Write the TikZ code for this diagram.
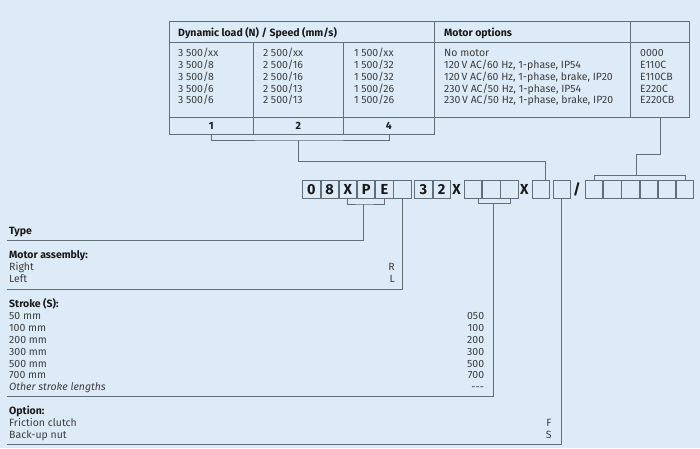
\documentclass[tikz,border=0pt]{standalone}
\usepackage{fontspec}
\setmainfont{Fira Sans}
\usetikzlibrary{calc}
\definecolor{bgc}{RGB}{221,235,248}
\definecolor{linec}{RGB}{100,110,118}
\definecolor{textc}{RGB}{60,60,60}
\definecolor{hdrc}{RGB}{25,25,25}
\newcommand{\ths}{\hspace{2.6pt}}
\tikzset{
  conn/.style={draw=linec, line width=0.9pt},
  tbl/.style={draw=linec, line width=0.9pt, inner sep=0pt, anchor=north west},
  cellbox/.style={draw=linec, line width=0.9pt, minimum width=17.33pt, minimum height=18.7pt, inner sep=0pt, anchor=west, font=\fontsize{14.5}{14}\selectfont\bfseries, text=hdrc},
  sep/.style={inner sep=0pt, font=\fontsize{14.5}{14}\selectfont\bfseries, text=hdrc},
  txt/.style={font=\fontsize{10.5}{11}\selectfont, text=textc, inner sep=0pt, anchor=base west},
  txtr/.style={txt, anchor=base east},
  hdr/.style={txt, font=\fontsize{10.5}{11}\selectfont\bfseries, text=hdrc},
  foot/.style={tbl, font=\fontsize{10.5}{11}\selectfont\bfseries, text=hdrc},
}
\begin{document}
\begin{tikzpicture}[x=1pt,y=-1pt]
\fill[bgc] (0,0) rectangle (700,448);
\useasboundingbox (0,0) rectangle (700,448);

% ---- table ----
\node[tbl, minimum width=265.5pt, minimum height=21pt] (hdyn) at (168.5,21) {};
\node[tbl, minimum width=196pt, minimum height=21pt] (hmot) at (434,21) {};
\node[tbl, minimum width=59pt, minimum height=21pt] (hcod) at (630,21) {};
\node[tbl, minimum width=84.5pt, minimum height=75pt] (b1) at (168.5,42) {};
\node[tbl, minimum width=90pt, minimum height=75pt] (b2) at (253,42) {};
\node[tbl, minimum width=91pt, minimum height=75pt] (b3) at (343,42) {};
\node[tbl, minimum width=196pt, minimum height=75pt] (bm) at (434,42) {};
\node[tbl, minimum width=59pt, minimum height=75pt] (bc) at (630,42) {};
\node[foot, minimum width=84.5pt, minimum height=17pt] (f1) at (168.5,117) {1};
\node[foot, minimum width=90pt, minimum height=17pt] (f2) at (253,117) {2};
\node[foot, minimum width=91pt, minimum height=17pt] (f4) at (343,117) {4};

\node[hdr] (tdyn) at (178,36) {Dynamic load (N) / Speed (mm/s)};
\node[hdr] (tmot) at (444,36) {Motor options};

\foreach \t [count=\i] in {3\ths500/xx,3\ths500/8,3\ths500/8,3\ths500/6,3\ths500/6}
  \node[txt] (ca\i) at (178,{56.5+11.85*(\i-1)}) {\t};
\foreach \t [count=\i] in {2\ths500/xx,2\ths500/16,2\ths500/16,2\ths500/13,2\ths500/13}
  \node[txt] (cb\i) at (263,{56.5+11.85*(\i-1)}) {\t};
\foreach \t [count=\i] in {1\ths500/xx,1\ths500/32,1\ths500/32,1\ths500/26,1\ths500/26}
  \node[txt] (cc\i) at (354,{56.5+11.85*(\i-1)}) {\t};
\foreach \t [count=\i] in {No motor,{120\,V AC/60 Hz, 1-phase, IP54},{120\,V AC/60 Hz, 1-phase, brake, IP20},{230\,V AC/50 Hz, 1-phase, IP54},{230\,V AC/50 Hz, 1-phase, brake, IP20}}
  \node[txt] (cm\i) at (444,{56.5+11.85*(\i-1)}) {\t};
\foreach \t [count=\i] in {0000,E110C,E110CB,E220C,E220CB}
  \node[txt] (cd\i) at (640,{56.5+11.85*(\i-1)}) {\t};

% ---- code row ----
\node[cellbox] (a1) at (302.3,189.3) {0};
\node[cellbox] (a2) at (a1.east) {8};
\node[cellbox] (a3) at (a2.east) {X};
\node[cellbox] (a4) at (a3.east) {P};
\node[cellbox] (a5) at (a4.east) {E};
\node[cellbox] (e1) at (393.3,189.3) {};
\node[cellbox] (n1) at (414.3,189.3) {3};
\node[cellbox] (n2) at (n1.east) {2};
\node[sep] (x1) at (456.7,189.3) {X};
\node[cellbox] (t1) at (464,189.3) {};
\node[cellbox] (t2) at (t1.east) {};
\node[cellbox] (t3) at (t2.east) {};
\node[sep] (x2) at (524.3,189.3) {X};
\node[cellbox] (s1) at (531.7,189.3) {};
\node[cellbox] (s2) at (552.7,189.3) {};
\node[sep] (sl) at (577,189.3) {/};
\node[cellbox] (m1) at (585,189.3) {};
\node[cellbox] (m2) at (m1.east) {};
\node[cellbox] (m3) at (m2.east) {};
\node[cellbox] (m4) at (m3.east) {};
\node[cellbox] (m5) at (m4.east) {};
\node[cellbox] (m6) at (m5.east) {};

% ---- connectors from table ----
\coordinate (bkT) at (298,140);
\coordinate (bkS) at (545,161);
\draw[conn] (f1.south) |- (bkT) -| (f4.south);
\draw[conn] (bkT) |- (bkS) -- (bkS |- s1.north);

\coordinate (mj) at (636.7,154);
\coordinate (mk) at (636.7,175.7);
\draw[conn] (bc.south) |- (mj) -- (mk);
\draw[conn] (m1.north) |- (mk) -| (m6.north);

% ---- connectors to legend ----
\coordinate (tk) at (363,204);
\coordinate (typeL) at (7,240.7);
\draw[conn] (a3.south) |- (tk) -| (a5.south);
\draw[conn] (tk) |- (typeL);

\coordinate (motL) at (7,289.3);
\draw[conn] (e1.south) |- (motL);

\coordinate (sbL) at (478.5,203.5);
\coordinate (sbR) at (510,203.5);
\coordinate (sbM) at (493.3,203.5);
\coordinate (strL) at (7,396.7);
\draw[conn] (sbL |- t1.south) -- (sbL) -- (sbR) -- (sbR |- t1.south);
\draw[conn] (sbM) |- (strL);

\coordinate (optL) at (7,444.3);
\draw[conn] (s2.south) |- (optL);

% ---- legend texts ----
\node[hdr] (ltype) at (9,234.8) {Type};

\node[hdr] (lmot) at (9,258.8) {Motor assembly:};
\node[txt] (lright) at (9,270.8) {Right};
\node[txt] (lleft) at (9,282.9) {Left};
\node[txtr] (vr) at (395,270.8) {R};
\node[txtr] (vl) at (395,282.9) {L};

\node[hdr] (lstr) at (9,307.5) {Stroke (S):};
\foreach \t/\v [count=\i] in {50 mm/050,100 mm/100,200 mm/200,300 mm/300,500 mm/500,700 mm/700}{
  \node[txt] (ls\i) at (9,{307.5+11.9*\i}) {\t};
  \node[txtr] (vs\i) at (484.3,{307.5+11.9*\i}) {\v};
}
\node[txt] (ls7) at (9,390.8) {\itshape Other stroke lengths};
\node[txtr] (vs7) at (484.3,390.8) {-{}-{}-};

\node[hdr] (lopt) at (9,414.8) {Option:};
\node[txt] (lfc) at (9,426.6) {Friction clutch};
\node[txt] (lbn) at (9,438.6) {Back-up nut};
\node[txtr] (vf) at (551.7,426.6) {F};
\node[txtr] (vsn) at (551.7,438.6) {S};
\end{tikzpicture}
\end{document}
